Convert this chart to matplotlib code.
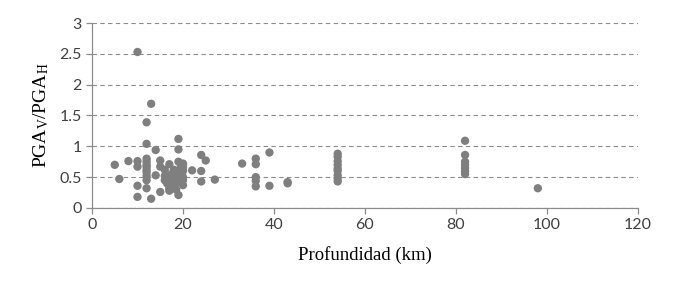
import matplotlib
matplotlib.use("Agg")
import matplotlib.pyplot as plt

# Depth (km) and PGA_V/PGA_H ratio
depth = [
    5, 6, 8, 10, 10, 10, 10, 10,
    12, 12, 12, 12, 12, 12, 12, 12, 12, 12, 12,
    13, 13, 14, 14, 15, 15, 15, 16, 17, 17,
    16, 16.5, 17, 17, 17.5, 18, 18, 18.5, 18.5, 19, 19, 19.5, 19.5,
    20, 20, 20, 20, 20, 20, 20, 17, 16, 18,
    19, 19, 19, 19, 22, 24, 25, 24, 24, 27,
    33, 36, 36, 36, 36, 36, 39, 39, 43, 43,
    54, 54, 54, 54, 54, 54, 54, 54, 54,
    82, 82, 82, 82, 82, 82, 82, 98,
]
ratio = [
    0.70, 0.47, 0.76, 2.53, 0.76, 0.67, 0.36, 0.18,
    1.39, 1.04, 0.80, 0.75, 0.70, 0.67, 0.62, 0.52, 0.45, 0.32, 0.58,
    1.69, 0.15, 0.94, 0.53, 0.77, 0.67, 0.26, 0.62, 0.71, 0.31,
    0.45, 0.40, 0.50, 0.35, 0.55, 0.45, 0.38, 0.60, 0.30, 0.50, 0.42, 0.65, 0.55,
    0.70, 0.60, 0.50, 0.45, 0.37, 0.65, 0.72, 0.28, 0.52, 0.62,
    1.12, 0.95, 0.75, 0.21, 0.61, 0.86, 0.77, 0.60, 0.43, 0.46,
    0.72, 0.80, 0.71, 0.50, 0.44, 0.35, 0.90, 0.36, 0.40, 0.42,
    0.88, 0.83, 0.76, 0.70, 0.64, 0.60, 0.53, 0.48, 0.43,
    1.09, 0.86, 0.75, 0.70, 0.65, 0.60, 0.55, 0.32,
]

x_ticks = [0, 20, 40, 60, 80, 100, 120]
y_ticks = [0, 0.5, 1, 1.5, 2, 2.5, 3]

plt.rcParams["mathtext.fontset"] = "custom"
plt.rcParams["mathtext.rm"] = "Liberation Serif"
plt.rcParams["mathtext.it"] = "Liberation Serif:italic"

fig = plt.figure(figsize=(6.74, 2.95), dpi=100)
ax = fig.add_axes([0.1365, 0.295, 0.81, 0.627])

ax.scatter(depth, ratio, s=36, color="#7f7f7f", edgecolors="none", zorder=3)

ax.set_xlim(0, 120)
ax.set_ylim(0, 3)
ax.set_xticks(x_ticks)
ax.set_yticks(y_ticks)
ax.set_xticklabels([str(v) for v in x_ticks])
ax.set_yticklabels(["0", "0.5", "1", "1.5", "2", "2.5", "3"])

ax.yaxis.grid(True, linestyle=(0, (4, 3)), color="#8c8c8c", linewidth=0.8, zorder=0)
for side in ["top", "right"]:
    ax.spines[side].set_visible(False)
for side in ["left", "bottom"]:
    ax.spines[side].set_color("#8c8c8c")
    ax.spines[side].set_linewidth(0.9)

ax.tick_params(axis="both", colors="#8c8c8c", length=4, width=0.9,
               labelcolor="#404040", labelsize=11.5)
for lbl in ax.get_xticklabels() + ax.get_yticklabels():
    lbl.set_family("Lato")

ax.set_xlabel("Profundidad (km)", family="Liberation Serif", fontsize=13.5, labelpad=10)
ax.set_ylabel(r"PGA$_\mathrm{V}$/PGA$_\mathrm{H}$", family="Liberation Serif",
              fontsize=14, labelpad=6)

fig.savefig("out.png", dpi=100)
